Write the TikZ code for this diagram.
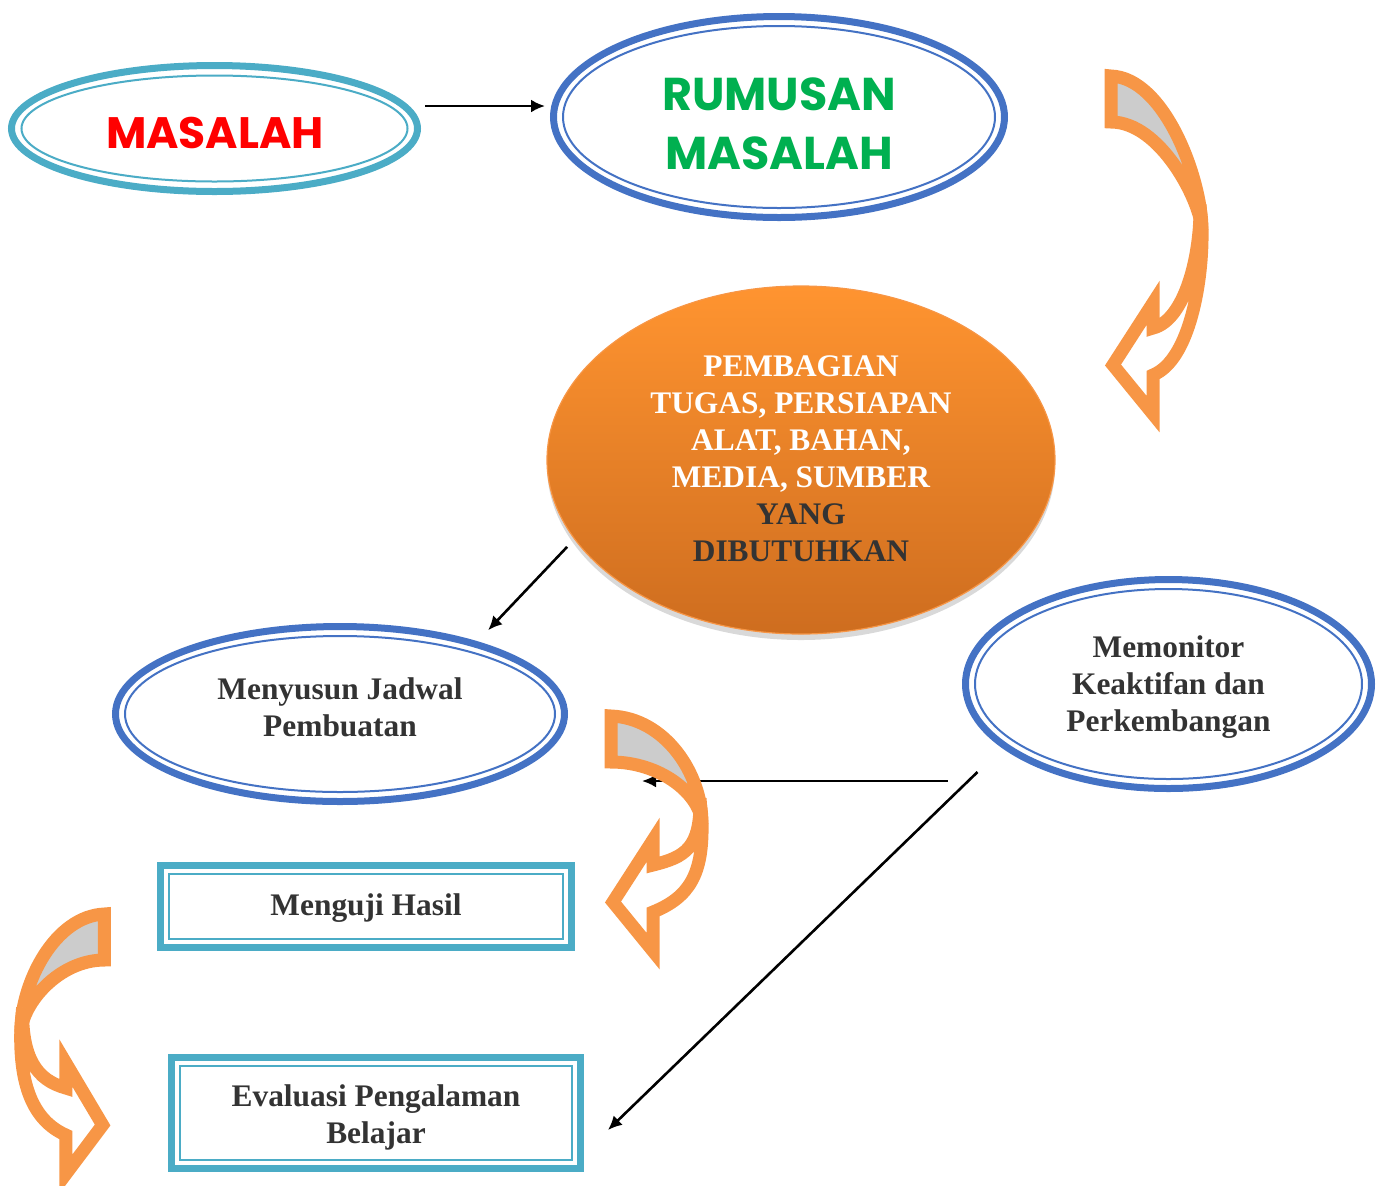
\documentclass[tikz,border=0pt]{standalone}
\usepackage{fontspec}
\setmainfont{Liberation Serif}
\newfontfamily\comicfont{Poppins}
\usetikzlibrary{shapes.geometric,arrows.meta,shadows}

\definecolor{ringblue}{HTML}{4472C4}
\definecolor{ringcyan}{HTML}{4BACC6}
\definecolor{bentorange}{HTML}{F79646}
\definecolor{backgray}{HTML}{CCCCCC}
\definecolor{darktext}{HTML}{333333}
\definecolor{rumgreen}{HTML}{00B050}
\definecolor{pemtop}{HTML}{FF9430}
\definecolor{pembot}{HTML}{CE6D1F}

% curved block arrow: x, y of the tail corner, height, xscale
\newcommand{\bentarrow}[4]{
	\begin{scope}[shift={(#1,#2)}, xscale=#4]
		\draw[bent, fill=backgray] (6,6) .. controls (60,8) and (97,{0.45*#3-50}) .. (97,{0.45*#3})
			.. controls (95,{0.45*#3-30}) and (55,52) .. (6,52) -- cycle;
		\draw[bent, fill=white] (95,{0.45*#3-25}) .. controls (96,{0.45*#3+25}) and (80,#3-105) .. (48,#3-97)
			-- (48,#3-122) -- (8,#3-60) -- (48,#3-11) -- (48,#3-50)
			.. controls (85,#3-65) and (98,{0.45*#3+50}) .. (97,{0.45*#3}) -- cycle;
	\end{scope}
}

\begin{document}
\begin{tikzpicture}[x=0.5pt, y=-0.5pt,
		ring/.style={ellipse, draw=#1, line width=3.5pt, fill=white, inner sep=0pt},
		ringin/.style={draw=#1, line width=1pt},
		box/.style={rectangle, draw=ringcyan, line width=3.5pt, fill=white, inner sep=0pt},
		body/.style={font=\fontsize{15.7}{18.5}\selectfont\bfseries, text=darktext, align=center},
		comic/.style={font=\comicfont\fontsize{#1}{29.5}\selectfont\bfseries, align=center},
		arr/.style={line width=1.3pt, -{Latex[length=7pt,width=6.5pt]}},
		bent/.style={draw=bentorange, line width=6.5pt, line join=miter}]
	\useasboundingbox (0,0) rectangle (1383,1185);

	\node[ring=ringcyan, minimum width=203pt, minimum height=63pt] (mas) at (214.5,128.5) {};
	\draw[ringin=ringcyan] (mas.center) ellipse [x radius=193, y radius=53];
	\node[comic=22, text=red] (mas-t) at (215,133) {MASALAH};

	\node[ring=ringblue, minimum width=225.5pt, minimum height=100.5pt] (rum) at (779,117) {};
	\draw[ringin=ringblue] (rum.center) ellipse [x radius=216, y radius=91];
	\node[comic=23, text=rumgreen] (rum-t) at (779,123.5) {RUMUSAN\\MASALAH};

	\node[ellipse, draw=bentorange, line width=0.6pt, top color=pemtop, bottom color=pembot,
		drop shadow={shadow xshift=0pt, shadow yshift=-3pt, opacity=0.3},
		minimum width=254pt, minimum height=174pt, inner sep=0pt] (pem) at (801,460) {};
	\node[body, text=white] (pem-t) at (801,458.5)
		{PEMBAGIAN\\TUGAS, PERSIAPAN\\ALAT, BAHAN,\\MEDIA, SUMBER\\\textcolor{darktext}{YANG}\\\textcolor{darktext}{DIBUTUHKAN}};

	\node[ring=ringblue, minimum width=224.5pt, minimum height=87.5pt] (jad) at (340,714) {};
	\draw[ringin=ringblue] (jad.center) ellipse [x radius=215, y radius=78];
	\node[body] (jad-t) at (340,707) {Menyusun Jadwal\\Pembuatan};

	\node[ring=ringblue, minimum width=203pt, minimum height=104.5pt] (mon) at (1168.5,684) {};
	\draw[ringin=ringblue] (mon.center) ellipse [x radius=193.5, y radius=95];
	\node[body] (mon-t) at (1168.5,687) {Memonitor\\Keaktifan dan\\Perkembangan};

	\node[box, minimum width=205.5pt, minimum height=41pt] (uji) at (366,906.5) {};
	\draw[ringin=ringcyan] ([shift={(12,12)}]uji.north west) rectangle ([shift={(-12,-12)}]uji.south east);
	\node[body] (uji-t) at (366,908.5) {Menguji Hasil};

	\node[box, minimum width=204.5pt, minimum height=55.5pt] (eva) at (376,1113) {};
	\draw[ringin=ringcyan] ([shift={(12,12)}]eva.north west) rectangle ([shift={(-12,-12)}]eva.south east);
	\node[body] (eva-t) at (376,1117) {Evaluasi Pengalaman\\Belajar};

	% connectors
	\coordinate (hit) at (642,781);
	\draw[arr] ([shift={(4,-22.5)}]mas.east) -- ([shift={(-5,-11)}]rum.west);
	\draw[arr] ([shift={(-9,5)}]pem.200) -- ([shift={(18.5,-9)}]jad.30);
	\draw[arr] ([shift={(-14.5,97)}]mon.west) -- (hit);
	\draw[arr] ([shift={(15.5,88)}]mon.west) -- ([shift={(24,17)}]eva.east);

	% orange curved arrows
	\bentarrow{1105}{70}{355}{1}
	\bentarrow{605}{710}{252}{1}
	\bentarrow{110}{908}{277}{-0.92}
\end{tikzpicture}
\end{document}
